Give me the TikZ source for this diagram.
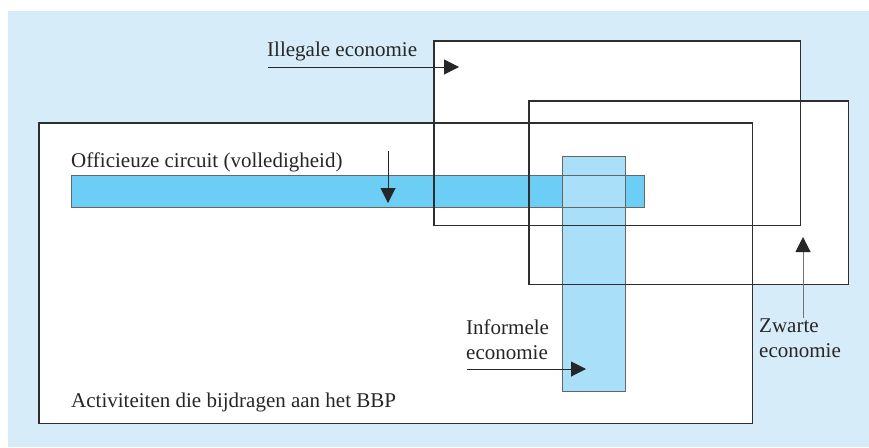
\documentclass[tikz,border=0pt]{standalone}
\usepackage{fontspec}
\setmainfont{Liberation Serif}
\usepackage{tikz}
\usetikzlibrary{arrows.meta,positioning}

\definecolor{achtergrond}{HTML}{D6ECF9}
\definecolor{donkerblauw}{HTML}{6CCEF5}
\definecolor{lichtblauw}{HTML}{AADFF9}
\definecolor{lijn}{HTML}{2E2E2E}

\tikzset{
  gebied/.style={fill=white, inner sep=0pt, anchor=north west},
  balk/.style={inner sep=0pt, anchor=north west},
  rand/.style={draw=lijn, line width=1.2pt},
  balkrand/.style={draw=black!60, line width=1pt},
  pijl/.style={-{Triangle[length=15pt,width=15pt,color=black!85]}, line width=1pt, draw=black!85},
  tekst/.style={anchor=base west, inner sep=0pt, align=left, font=\fontsize{21}{24.5}\selectfont, text=black!85},
}

\begin{document}
\begin{tikzpicture}[x=1pt, y=-1pt]
    \useasboundingbox (0,0) rectangle (869,447);
    \fill[achtergrond] (8,11) rectangle (869,447);

    % Areas
    \node[gebied, minimum width=713pt, minimum height=300pt] (bbp) at (39,123) {};
    \node[gebied, minimum width=366pt, minimum height=184pt] (illegaal) at (434,41) {};
    \node[gebied, minimum width=319pt, minimum height=183pt] (zwart) at (529,101) {};

    % Bars
    \node[balk, fill=donkerblauw, minimum width=573pt, minimum height=32pt] (officieus) at (71,175) {};
    \node[balk, fill=lichtblauw, minimum width=63pt, minimum height=235pt] (informeel) at (562,156) {};

    % Outlines
    \foreach \n in {officieus,informeel}
        \draw[balkrand] (\n.north west) rectangle (\n.south east);
    \foreach \n in {bbp,illegaal,zwart}
        \draw[rand] (\n.north west) rectangle (\n.south east);

    % Labels
    \node[tekst] (t_illegaal) at (267,56) {Illegale economie};
    \node[tekst] (t_officieus) at (71,167) {Officieuze circuit (volledigheid)};
    \node[tekst] (t_zwart) at (759,357) {Zwarte\\economie};
    \node[tekst] (t_informeel) at (466,359) {Informele\\economie};
    \node[tekst] (t_bbp) at (71,407) {Activiteiten die bijdragen aan het BBP};

    % Arrows
    \coordinate (s_illegaal) at (268,67);
    \coordinate (e_illegaal) at (459,67);
    \coordinate (s_officieus) at (388,151);
    \coordinate (e_officieus) at (388,203);
    \coordinate (s_zwart) at (803,318);
    \coordinate (e_zwart) at (803,237);
    \coordinate (s_informeel) at (467,369);
    \coordinate (e_informeel) at (586,369);

    \draw[pijl] (s_illegaal) -- (e_illegaal);
    \draw[pijl] (s_officieus) -- (e_officieus);
    \draw[pijl, draw=black!55] (s_zwart) -- (e_zwart);
    \draw[pijl] (s_informeel) -- (e_informeel);
\end{tikzpicture}
\end{document}
